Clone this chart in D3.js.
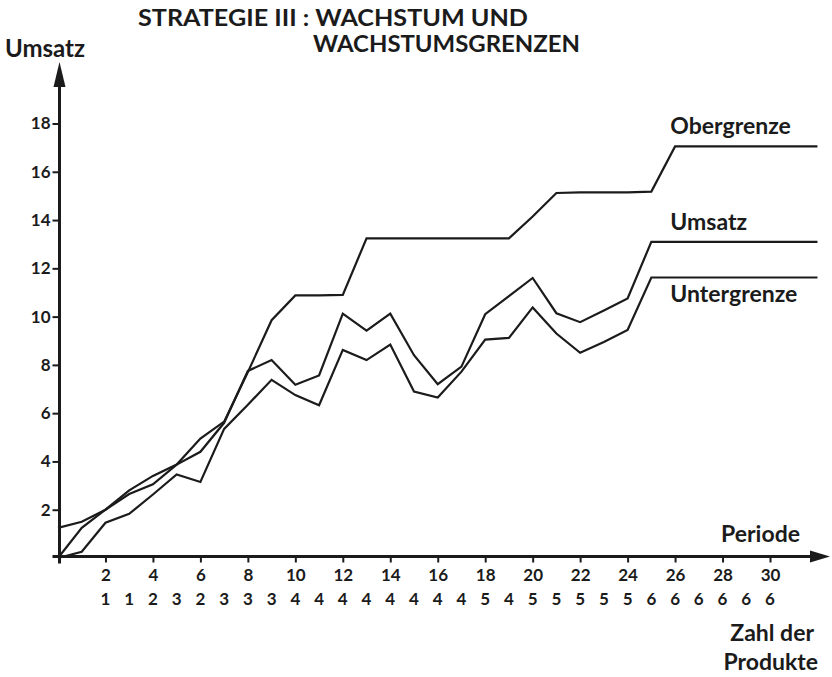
<!DOCTYPE html>
<html>
<head>
<meta charset="utf-8">
<script src="https://cdn.jsdelivr.net/npm/d3@7"></script>
<style>
  body { margin: 0; background: #fff; }
  svg { display: block; }
  text { font-family: Lato, "Liberation Sans", sans-serif; font-weight: 700; fill: #1b1b1b; }
</style>
</head>
<body>
<svg id="chart" width="832" height="677"></svg>
<script>
// Strategie III: Wachstum und Wachstumsgrenzen

const periods = [0, 1, 2, 3, 4, 5, 6, 7, 8, 9, 10, 11, 12, 13, 14, 15, 16,
                 17, 18, 19, 20, 21, 22, 23, 24, 25, 26, 27, 28, 29, 30, 31, 32];

const obergrenze = [1.25, 1.5, 2.0, 2.8, 3.4, 3.87, 4.95, 5.65, 7.7, 9.85, 10.88, 10.88, 10.9,
                    13.24, 13.24, 13.24, 13.24, 13.24, 13.24, 13.24, 14.15, 15.12, 15.15, 15.15,
                    15.15, 15.18, 17.05, 17.05, 17.05, 17.05, 17.05, 17.05, 17.05];

const umsatz = [0, 1.25, 2.0, 2.65, 3.05, 3.87, 4.4, 5.6, 7.75, 8.2, 7.18, 7.56, 10.12,
                9.42, 10.12, 8.4, 7.2, 7.93, 10.1, 10.85, 11.6, 10.14, 9.77, 10.25,
                10.75, 13.1, 13.1, 13.1, 13.1, 13.1, 13.1, 13.1, 13.1];

const untergrenze = [0, 0.26, 1.46, 1.83, 2.63, 3.46, 3.15, 5.35, 6.35, 7.38, 6.75, 6.33, 8.62,
                     8.2, 8.84, 6.9, 6.65, 7.72, 9.05, 9.12, 10.38, 9.3, 8.5, 8.95,
                     9.45, 11.62, 11.62, 11.62, 11.62, 11.62, 11.62, 11.62, 11.62];

const seriesNames = ["Obergrenze", "Umsatz", "Untergrenze"];

// x axis: Periode (first row), Zahl der Produkte (second row)
const periodTicks = [2, 4, 6, 8, 10, 12, 14, 16, 18, 20, 22, 24, 26, 28, 30];
const productPeriods = [2, 3, 4, 5, 6, 7, 8, 9, 10, 11, 12, 13, 14, 15, 16, 17, 18, 19,
                        20, 21, 22, 23, 24, 25, 26, 27, 28, 29, 30];
const productCounts = [1, 1, 2, 3, 2, 3, 3, 3, 4, 4, 4, 4, 4, 4, 4, 4, 5, 4,
                       5, 5, 5, 5, 5, 6, 6, 6, 6, 6, 6];

const umsatzTicks = [2, 4, 6, 8, 10, 12, 14, 16, 18];

const ink = "#1b1b1b";
const svg = d3.select("#chart");

const x = d3.scaleLinear().domain([0, 30]).range([58, 770]);
const y = d3.scaleLinear().domain([0, 18]).range([558, 123.5]);

const x0 = x(0) + 1.5;   // position of the vertical axis line
const y0 = y(0) - 1.5;   // position of the horizontal axis line

// ---- title (two lines in one text element) ----
const title = svg.append("text").attr("font-size", 22);
title.append("tspan")
    .attr("x", 138).attr("y", 25.5)
    .attr("textLength", 390).attr("lengthAdjust", "spacingAndGlyphs")
    .text("STRATEGIE III : WACHSTUM UND");
title.append("tspan")
    .attr("x", 313).attr("y", 52)
    .attr("textLength", 267).attr("lengthAdjust", "spacingAndGlyphs")
    .text("WACHSTUMSGRENZEN");

// ---- y axis ----
const yAxis = d3.axisLeft(y)
    .tickValues(umsatzTicks)
    .tickSize(7)
    .tickPadding(2)
    .tickFormat(d3.format("d"));

const gy = svg.append("g")
    .attr("transform", `translate(${x0},0)`)
    .call(yAxis);
gy.select(".domain").remove();
gy.selectAll(".tick line").attr("stroke", ink).attr("stroke-width", 2);
gy.selectAll(".tick text")
    .attr("font-size", 17)
    .style("font-family", "Lato, 'Liberation Sans', sans-serif")
    .style("font-weight", 700)
    .attr("fill", ink);

svg.append("line")
    .attr("x1", x0).attr("x2", x0)
    .attr("y1", y0 + 7).attr("y2", 84)
    .attr("stroke", ink).attr("stroke-width", 3);
svg.append("path")
    .attr("d", `M${x0},62 L${x0 - 6},87 L${x0 + 6},87 Z`)
    .attr("fill", ink);

svg.append("text")
    .attr("x", 5).attr("y", 57)
    .attr("font-size", 24)
    .text("Umsatz");

// ---- x axis ----
const xAxis = d3.axisBottom(x)
    .tickValues(periodTicks)
    .tickSize(6)
    .tickPadding(6)
    .tickFormat(d3.format("d"));

const gx = svg.append("g")
    .attr("transform", `translate(0,${y0})`)
    .call(xAxis);
gx.select(".domain").remove();
gx.selectAll(".tick line").attr("stroke", ink).attr("stroke-width", 2);
gx.selectAll(".tick text")
    .attr("font-size", 17)
    .style("font-family", "Lato, 'Liberation Sans', sans-serif")
    .style("font-weight", 700)
    .attr("fill", ink);

svg.append("line")
    .attr("x1", x0 - 7).attr("x2", 814)
    .attr("y1", y0).attr("y2", y0)
    .attr("stroke", ink).attr("stroke-width", 3);
svg.append("path")
    .attr("d", `M830,${y0} L810,${y0 - 6} L810,${y0 + 6} Z`)
    .attr("fill", ink);
// small mark under the origin
svg.append("line")
    .attr("x1", x0).attr("x2", x0)
    .attr("y1", y0).attr("y2", y0 + 6)
    .attr("stroke", ink).attr("stroke-width", 3);

// second row: number of products
svg.append("g")
    .selectAll("text")
    .data(productPeriods)
    .join("text")
    .attr("x", d => x(d))
    .attr("y", 605)
    .attr("text-anchor", "middle")
    .attr("font-size", 17)
    .text((d, i) => productCounts[i]);

svg.append("text")
    .attr("x", 800).attr("y", 542)
    .attr("text-anchor", "end")
    .attr("font-size", 23)
    .text("Periode");
svg.append("text")
    .attr("x", 814).attr("y", 641)
    .attr("text-anchor", "end")
    .attr("font-size", 23)
    .text("Zahl der");
svg.append("text")
    .attr("x", 818).attr("y", 670)
    .attr("text-anchor", "end")
    .attr("font-size", 23)
    .text("Produkte");

// ---- lines ----
const series = [obergrenze, umsatz, untergrenze];

const line = d3.line()
    .x((d, i) => x(periods[i]))
    .y(d => y(d));

svg.append("g")
    .selectAll("path")
    .data(series)
    .join("path")
    .attr("d", line)
    .attr("fill", "none")
    .attr("stroke", ink)
    .attr("stroke-width", 2.2);

// line labels next to the flat right ends
const labelOffsets = [-12, -12, 24];
svg.append("g")
    .selectAll("text")
    .data(seriesNames)
    .join("text")
    .attr("x", x(25.8))
    .attr("y", (d, i) => y(series[i][series[i].length - 1]) + labelOffsets[i])
    .attr("font-size", 23)
    .text(d => d);
</script>
</body>
</html>
